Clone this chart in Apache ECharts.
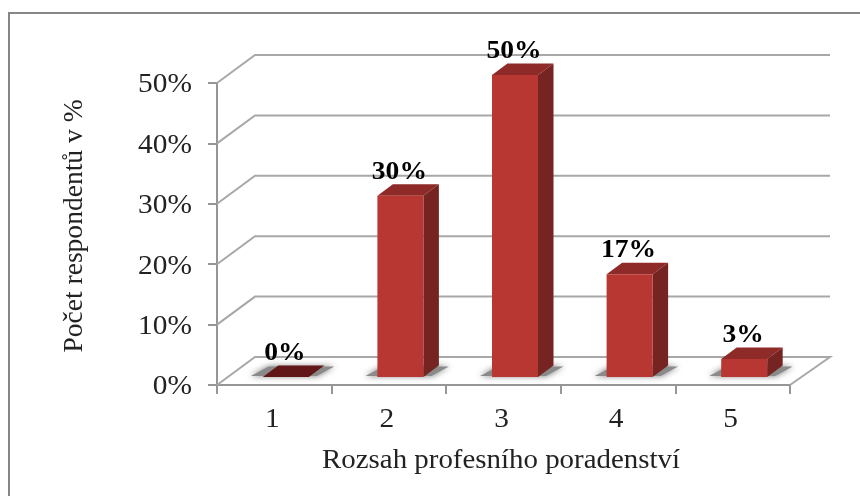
<!DOCTYPE html>
<html><head><meta charset="utf-8">
<style>html,body{margin:0;padding:0;background:#fff}#c{width:860px;height:496px}</style>
<script src="https://cdn.jsdelivr.net/npm/echarts@6/dist/echarts.min.js"></script>
</head><body><div id="c"></div>
<script>
const categories = ['1','2','3','4','5'];
const values = [0,30,50,17,3];
const valueLabels = ['0%','30%','50%','17%','3%'];
const yTicks = [0,10,20,30,40,50];
const yTickLabels = ['0%','10%','20%','30%','40%','50%'];
const xTitle = 'Rozsah profesního poradenství';
const yTitle = 'Počet respondentů v %';

const FONT = '"Liberation Serif","Times New Roman",serif';
const WALL = [38,-28], BAR = [11.5,-8], DEPTH = [15.5,-11.5], BAR_W = 46;
const GRID = '#a8a8a8';
const chart = echarts.init(document.getElementById('c'), null, {renderer:'canvas'});
const poly = (points, fill, extra) => ({type:'polygon', shape:{points}, style:Object.assign({fill}, extra||{})});

function renderWall(params, api){
  const v = api.value(0);
  const p0 = api.coord([0,v]);
  const left = params.coordSys.x, right = left + params.coordSys.width, y = p0[1];
  const pts = [[left,y],[left+WALL[0],y+WALL[1]],[right+WALL[0]+2,y+WALL[1]]];
  if (v === 0) pts.push([right,y]);
  return {type:'polyline', shape:{points:pts}, style:{stroke:GRID, lineWidth:2, fill:null}, silent:true};
}
function renderBar(params, api){
  const i = api.value(0), v = api.value(1);
  const c = api.coord([i,v]), b = api.coord([i,0]);
  const x0 = c[0]-BAR_W/2+BAR[0], x1 = x0+BAR_W, top = c[1]+BAR[1], bot = b[1]+BAR[1];
  const dx = DEPTH[0], dy = DEPTH[1];
  const children = [
    poly([[x0-12,bot-1],[x1+8,bot-1],[x1+dx+10,bot+dy+1],[x0+6,bot+dy+1]], '#8a8a8a', {shadowBlur:6, shadowColor:'rgba(100,100,100,0.9)'})
  ];
  if (v === 0) {
    children.push(poly([[x0,bot],[x1,bot],[x1+dx,bot+dy],[x0+dx,bot+dy]], '#611717'));
  } else {
    children.push(poly([[x1,bot],[x1+dx,bot+dy],[x1+dx,top+dy],[x1,top]], '#752421'));
    children.push(poly([[x0,top],[x1,top],[x1+dx,top+dy],[x0+dx,top+dy]], '#8e2a27'));
    children.push({type:'rect', shape:{x:x0,y:top,width:BAR_W,height:bot-top}, style:{fill:'#b83733'}});
  }
  children.push({type:'text', x:c[0]+BAR[0]-1, y:top-24, scaleX:1.06,
    style:{text:valueLabels[i], font:'bold 26px '+FONT, fill:'#000', align:'center', verticalAlign:'middle'}});
  return {type:'group', children};
}
function renderYLabel(params, api){
  const v = api.value(0), p = api.coord([0,v]);
  return {type:'text', x:params.coordSys.x-25, y:p[1]+2, scaleX:1.05,
    style:{text:yTickLabels[params.dataIndex], font:'28px '+FONT, fill:'#222', align:'right', verticalAlign:'middle'}};
}
function renderXLabel(params, api){
  const i = api.value(0), p = api.coord([i,0]);
  return {type:'text', x:p[0]-2, y:p[1]+35, scaleX:1.05,
    style:{text:categories[i], font:'28px '+FONT, fill:'#222', align:'center', verticalAlign:'middle'}};
}
chart.setOption({
  animation:false,
  backgroundColor:'#fff',
  grid:{left:217, top:83, width:573, height:302},
  graphic:[
    {type:'rect', z:-1, shape:{x:9,y:13,width:1000,height:800}, style:{fill:'none',stroke:'#868686',lineWidth:2}},
    {type:'text', x:501, y:461, scaleX:1.07, style:{text:xTitle, font:'27px '+FONT, fill:'#222', align:'center', verticalAlign:'middle'}},
    {type:'text', x:75, y:226, rotation:Math.PI/2, scaleX:1.02, style:{text:yTitle, font:'27px '+FONT, fill:'#222', align:'center', verticalAlign:'middle'}}
  ],
  xAxis:{type:'category', data:categories,
    axisLine:{lineStyle:{color:'#969696',width:2}},
    axisTick:{show:true,length:9,alignWithLabel:false,lineStyle:{color:'#969696',width:2}},
    axisLabel:{show:false}, splitLine:{show:false}},
  yAxis:{type:'value', min:0, max:50, interval:10,
    axisLine:{show:true,lineStyle:{color:'#969696',width:2}},
    axisTick:{show:true,length:9,lineStyle:{color:'#969696',width:2}},
    axisLabel:{show:false}, splitLine:{show:false}},
  series:[
    {type:'custom', coordinateSystem:'cartesian2d', clip:false, silent:true, z:1, renderItem:renderWall, data:yTicks.map(v=>[v])  , encode:{y:0}},
    {type:'custom', coordinateSystem:'cartesian2d', clip:false, silent:true, z:2, renderItem:renderBar, data:values.map((v,i)=>[i,v]), encode:{x:0,y:1}},
    {type:'custom', coordinateSystem:'cartesian2d', clip:false, silent:true, z:3, renderItem:renderYLabel, data:yTicks.map(v=>[v]), encode:{y:0}},
    {type:'custom', coordinateSystem:'cartesian2d', clip:false, silent:true, z:3, renderItem:renderXLabel, data:categories.map((c,i)=>[i]), encode:{x:0}}
  ]
});
</script></body></html>
